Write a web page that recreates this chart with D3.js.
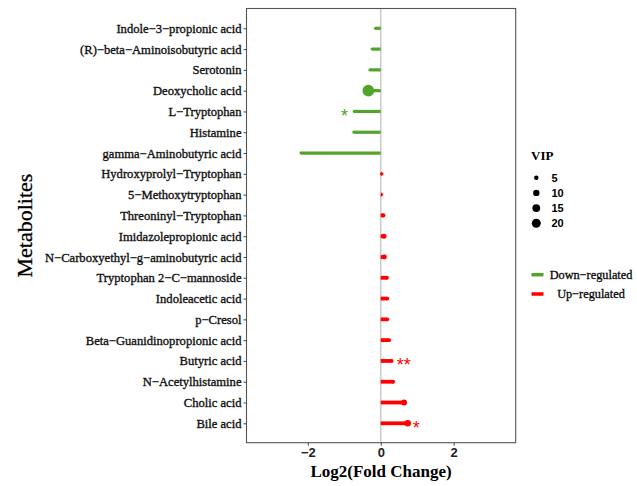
<!DOCTYPE html>
<html>
<head>
<meta charset="utf-8">
<script src="https://cdn.jsdelivr.net/npm/d3@7/dist/d3.min.js"></script>
<style>
  html, body { margin: 0; padding: 0; background: #fff; }
  svg { display: block; }
</style>
</head>
<body>
<svg id="chart" width="637" height="486"></svg>
<script>
// Metabolites, top to bottom
const metabolites = [
  "Indole−3−propionic acid",
  "(R)−beta−Aminoisobutyric acid",
  "Serotonin",
  "Deoxycholic acid",
  "L−Tryptophan",
  "Histamine",
  "gamma−Aminobutyric acid",
  "Hydroxyprolyl−Tryptophan",
  "5−Methoxytryptophan",
  "Threoninyl−Tryptophan",
  "Imidazolepropionic acid",
  "N−Carboxyethyl−g−aminobutyric acid",
  "Tryptophan 2−C−mannoside",
  "Indoleacetic acid",
  "p−Cresol",
  "Beta−Guanidinopropionic acid",
  "Butyric acid",
  "N−Acetylhistamine",
  "Cholic acid",
  "Bile acid"
];
// log2 fold change per metabolite
const log2fc = [-0.15, -0.24, -0.30, -0.34, -0.73, -0.74, -2.19,
                0.03, 0.04, 0.07, 0.09, 0.10, 0.17, 0.18, 0.18, 0.23, 0.30, 0.34, 0.64, 0.74];
// VIP score per metabolite
const vip = [2, 2, 2, 34, 2, 2, 2,
             2.7, 1.3, 4.6, 6.2, 6, 3.6, 3.6, 3.6, 3.6, 3.6, 3.6, 8.9, 10.4];
// significance marks
const signif = ["", "", "", "", "*", "", "", "", "", "", "", "", "", "", "", "", "**", "", "", "*"];

const xTicks = [-2, 0, 2];
const vipBreaks = [5, 10, 15, 20];
const regulation = ["Down−regulated", "Up−regulated"];
const regColors = ["#52a52a", "#ff0000"];

const serif = "Liberation Serif, 'Times New Roman', serif";
const sans = "Liberation Sans, Arial, sans-serif";

const svg = d3.select("#chart");
const panel = { left: 246.5, right: 515.7, top: 8.5, bottom: 442.7 };

const x = d3.scaleLinear().domain([-3.68, 3.70]).range([panel.left, panel.right]);
const y = d3.scalePoint().domain(metabolites).range([28.3, 423.3]);
const r = d3.scaleSqrt().domain([0, 20]).range([0, 4.5]);
const colorOf = v => v < 0 ? regColors[0] : regColors[1];

const rows = metabolites.map((m, i) => ({ name: m, fc: log2fc[i], vip: vip[i], sig: signif[i] }));

// zero reference line
svg.append("line")
  .attr("x1", x(0)).attr("x2", x(0))
  .attr("y1", panel.top).attr("y2", panel.bottom)
  .attr("stroke", "#cccccc").attr("stroke-width", 1.6);

// lollipop stems
svg.append("g").selectAll("line").data(rows).join("line")
  .attr("x1", x(0)).attr("x2", d => x(d.fc))
  .attr("y1", d => y(d.name)).attr("y2", d => y(d.name))
  .attr("stroke", d => colorOf(d.fc))
  .attr("stroke-width", d => d.fc < 0 ? 3.2 : 3.8);

// heads sized by VIP
svg.append("g").selectAll("circle").data(rows).join("circle")
  .attr("cx", d => x(d.fc)).attr("cy", d => y(d.name))
  .attr("r", d => r(d.vip))
  .attr("fill", d => colorOf(d.fc));

// significance stars
svg.append("g").selectAll("text").data(rows.filter(d => d.sig)).join("text")
  .attr("x", d => d.fc < 0 ? x(d.fc) - 6 : x(d.fc) + 5)
  .attr("y", d => y(d.name) + 10.5)
  .attr("text-anchor", d => d.fc < 0 ? "end" : "start")
  .attr("fill", d => colorOf(d.fc))
  .attr("font-family", sans)
  .attr("font-size", 18)
  .text(d => d.sig);

// panel border
svg.append("rect")
  .attr("x", panel.left).attr("y", panel.top)
  .attr("width", panel.right - panel.left).attr("height", panel.bottom - panel.top)
  .attr("fill", "none").attr("stroke", "#555").attr("stroke-width", 1.1);

// y axis
const yAxis = svg.append("g")
  .attr("transform", `translate(${panel.left},0)`)
  .call(d3.axisLeft(y).tickSize(3).tickPadding(2));
yAxis.select(".domain").remove();
yAxis.selectAll(".tick line").attr("stroke", "#444");
yAxis.selectAll("text")
  .attr("fill", "#111")
  .attr("stroke", "#111").attr("stroke-width", 0.35)
  .attr("font-family", serif)
  .attr("font-size", 12.6);

// x axis
const xAxis = svg.append("g")
  .attr("transform", `translate(0,${panel.bottom})`)
  .call(d3.axisBottom(x).tickValues(xTicks).tickSize(3).tickPadding(2).tickFormat(d3.format("d")));
xAxis.select(".domain").remove();
xAxis.selectAll(".tick line").attr("stroke", "#444");
xAxis.selectAll("text")
  .attr("fill", "#222")
  .attr("font-family", sans)
  .attr("font-weight", "bold")
  .attr("font-size", 13);

// axis titles
svg.append("text")
  .attr("x", (panel.left + panel.right) / 2).attr("y", 477)
  .attr("text-anchor", "middle")
  .attr("font-family", serif)
  .attr("font-weight", "bold")
  .attr("font-size", 17)
  .text("Log2(Fold Change)");

svg.append("text")
  .attr("transform", `translate(32,${(panel.top + panel.bottom) / 2}) rotate(-90)`)
  .attr("text-anchor", "middle")
  .attr("font-family", serif)
  .attr("stroke", "#000").attr("stroke-width", 0.3)
  .attr("font-size", 22)
  .text("Metabolites");

// VIP legend
const sizeLegend = svg.append("g");
sizeLegend.append("text")
  .attr("x", 531).attr("y", 160)
  .attr("font-family", serif)
  .attr("font-weight", "bold")
  .attr("font-size", 13)
  .text("VIP");
const sizeY = d3.scalePoint().domain(vipBreaks).range([177.7, 223.3]);
sizeLegend.selectAll("circle").data(vipBreaks).join("circle")
  .attr("cx", 536.3).attr("cy", d => sizeY(d)).attr("r", d => r(d)).attr("fill", "#000");
sizeLegend.selectAll("text.lab").data(vipBreaks).join("text")
  .attr("class", "lab")
  .attr("x", 551.5).attr("y", d => sizeY(d) + 4)
  .attr("font-family", sans)
  .attr("font-weight", "bold")
  .attr("font-size", 11)
  .text(d => d);

// regulation legend
const regY = d3.scalePoint().domain(regulation).range([274.7, 294]);
const regLegend = svg.append("g");
regLegend.selectAll("line").data(regulation).join("line")
  .attr("x1", 531.5).attr("x2", 543.5)
  .attr("y1", d => regY(d)).attr("y2", d => regY(d))
  .attr("stroke", (d, i) => regColors[i]).attr("stroke-width", 3.5);
regLegend.selectAll("text").data(regulation).join("text")
  .attr("x", 591).attr("y", d => regY(d) + 4)
  .attr("text-anchor", "middle")
  .attr("font-family", serif)
  .attr("stroke", "#111").attr("stroke-width", 0.3)
  .attr("font-size", 12.3)
  .text(d => d);
</script>
</body>
</html>
